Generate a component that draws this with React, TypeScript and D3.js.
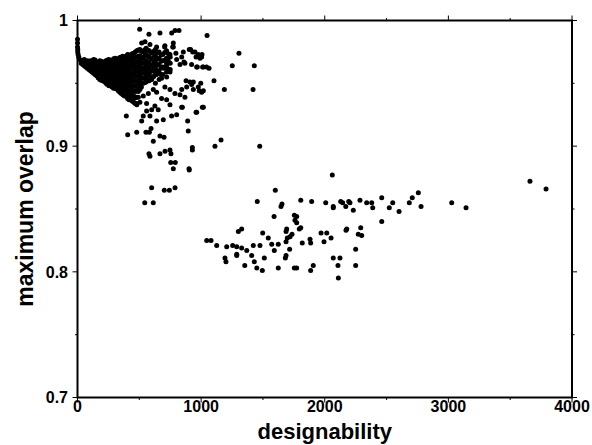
import React from "react";
import * as d3 from "d3";

// ---- data (designability vs maximum overlap) ----
// dense head of the distribution: column x values and the overlap values in each column
const headColumnX: number[] = [0, 2, 5, 10, 18, 30, 55, 80, 105, 130, 155, 180, 205, 230, 255, 280, 305, 330, 355, 380, 405, 430, 455, 480, 505, 530, 555, 580, 605, 630, 660, 690, 720, 750];
const headColumnY: number[][] = [
  [0.985, 0.982, 0.979],
  [0.977, 0.975],
  [0.973],
  [0.971],
  [0.969],
  [0.968, 0.966],
  [0.969, 0.966, 0.964],
  [0.968, 0.965, 0.962],
  [0.968, 0.965, 0.962, 0.960],
  [0.969, 0.966, 0.963, 0.960, 0.958],
  [0.967, 0.964, 0.961, 0.958, 0.956],
  [0.968, 0.965, 0.962, 0.959, 0.956, 0.953],
  [0.967, 0.964, 0.961, 0.958, 0.955, 0.952],
  [0.968, 0.965, 0.962, 0.959, 0.956, 0.953, 0.950],
  [0.969, 0.966, 0.963, 0.960, 0.957, 0.954, 0.951, 0.948],
  [0.968, 0.965, 0.962, 0.959, 0.956, 0.953, 0.950, 0.947],
  [0.970, 0.967, 0.964, 0.961, 0.958, 0.955, 0.952, 0.949, 0.946],
  [0.969, 0.966, 0.963, 0.960, 0.957, 0.954, 0.951, 0.948, 0.944],
  [0.971, 0.968, 0.965, 0.962, 0.959, 0.956, 0.953, 0.950, 0.946, 0.942],
  [0.970, 0.967, 0.964, 0.961, 0.958, 0.955, 0.952, 0.949, 0.945, 0.940],
  [0.973, 0.969, 0.966, 0.963, 0.960, 0.957, 0.954, 0.950, 0.946, 0.942, 0.938],
  [0.972, 0.968, 0.965, 0.962, 0.958, 0.955, 0.951, 0.947, 0.943, 0.937],
  [0.974, 0.970, 0.966, 0.963, 0.959, 0.956, 0.952, 0.948, 0.944, 0.940, 0.935],
  [0.976, 0.971, 0.967, 0.963, 0.960, 0.956, 0.952, 0.948, 0.944, 0.939, 0.933],
  [0.977, 0.972, 0.968, 0.964, 0.960, 0.957, 0.953, 0.949, 0.945],
  [0.975, 0.970, 0.966, 0.962, 0.958, 0.954, 0.950],
  [0.978, 0.973, 0.968, 0.964, 0.959, 0.955, 0.951],
  [0.976, 0.971, 0.966, 0.962, 0.957, 0.952],
  [0.974, 0.969, 0.964, 0.960, 0.955],
  [0.977, 0.972, 0.967, 0.962, 0.957, 0.950],
  [0.975, 0.970, 0.965, 0.960, 0.953],
  [0.973, 0.968, 0.963, 0.957],
  [0.976, 0.970, 0.964, 0.959],
  [0.971, 0.966, 0.961],
];
// in-between columns of the same dense head
const headColumnX2: number[] = [42, 67, 92, 117, 142, 167, 192, 217, 242, 267, 292, 317, 342, 367, 392, 417, 442, 467, 492, 517, 542, 567, 592, 617, 645, 675, 705, 735];
const headColumnY2: number[][] = [
  [0.967, 0.965],
  [0.9675, 0.9645, 0.963],
  [0.9665, 0.9635, 0.961],
  [0.9675, 0.9645, 0.9615, 0.959],
  [0.9685, 0.9655, 0.9625, 0.9595, 0.957],
  [0.9665, 0.9635, 0.9605, 0.9575, 0.9545],
  [0.9675, 0.9645, 0.9615, 0.9585, 0.9555, 0.9525],
  [0.9665, 0.9635, 0.9605, 0.9575, 0.9545, 0.9515],
  [0.9685, 0.9655, 0.9625, 0.9595, 0.9565, 0.9535, 0.9505, 0.949],
  [0.9675, 0.9645, 0.9615, 0.9585, 0.9555, 0.9525, 0.9495],
  [0.9695, 0.9665, 0.9635, 0.9605, 0.9575, 0.9545, 0.9515, 0.9485, 0.946],
  [0.9695, 0.9665, 0.9635, 0.9605, 0.9575, 0.9545, 0.9515, 0.9485, 0.9455],
  [0.9705, 0.9675, 0.9645, 0.9615, 0.9585, 0.9555, 0.9525, 0.9495, 0.9465, 0.943],
  [0.9715, 0.9685, 0.9655, 0.9625, 0.9595, 0.9565, 0.9535, 0.9505, 0.9475, 0.9435, 0.941],
  [0.9715, 0.9675, 0.9645, 0.9615, 0.9585, 0.9555, 0.9525, 0.9485, 0.9445, 0.9405],
  [0.9725, 0.9685, 0.9655, 0.9625, 0.9595, 0.9565, 0.9525, 0.9485, 0.9445, 0.9405, 0.937],
  [0.9735, 0.9695, 0.9655, 0.9625, 0.9585, 0.9555, 0.9515, 0.9475, 0.9435, 0.9395, 0.936],
  [0.975, 0.9705, 0.9665, 0.9625, 0.9595, 0.9555, 0.9515, 0.9475, 0.9435, 0.9385, 0.934],
  [0.9765, 0.9715, 0.9675, 0.9635, 0.9595, 0.9555, 0.9515, 0.9475, 0.9435, 0.939],
  [0.9755, 0.9705, 0.9665, 0.9625, 0.9585, 0.9545, 0.9505, 0.947],
  [0.9765, 0.9715, 0.9665, 0.9625, 0.9585, 0.9545, 0.9505],
  [0.9765, 0.9715, 0.9665, 0.9615, 0.9565, 0.9525],
  [0.9745, 0.9695, 0.9645, 0.9595, 0.9545],
  [0.9755, 0.9705, 0.9655, 0.9605, 0.9555],
  [0.9745, 0.9695, 0.9645, 0.9595],
  [0.9725, 0.9675, 0.9625, 0.957],
  [0.9745, 0.9685, 0.9625],
  [0.9735, 0.9675, 0.9615],
];

// scattered points of the high-overlap fan
const fanPoints: [number, number][] = [
  [503, 0.993], [578, 0.989], [667, 0.990], [762, 0.990], [789, 0.992], [821, 0.992],
  [1048, 0.988], [1306, 0.974], [1252, 0.964], [1430, 0.964], [1104, 0.952], [1188, 0.945],
  [1420, 0.945], [1018, 0.931], [964, 0.927], [848, 0.931], [891, 0.920], [896, 0.912],
  [929, 0.899], [929, 0.897], [1112, 0.900], [1161, 0.905], [1474, 0.900], [902, 0.882],
  [775, 0.882], [754, 0.887], [791, 0.887], [748, 0.897], [756, 0.894], [667, 0.894],
  [708, 0.896], [578, 0.894], [586, 0.892], [613, 0.904], [667, 0.908], [700, 0.907],
  [595, 0.914], [479, 0.911], [406, 0.909], [395, 0.924], [554, 0.911], [581, 0.911],
  [600, 0.867], [702, 0.865], [743, 0.865], [789, 0.867], [544, 0.855], [613, 0.855],
  [991, 0.970], [1007, 0.973], [959, 0.971], [932, 0.975], [904, 0.977], [856, 0.975],
  [843, 0.971], [861, 0.967], [1064, 0.962], [1018, 0.963], [969, 0.963], [878, 0.952],
  [924, 0.949], [937, 0.951], [997, 0.950], [985, 0.944], [1018, 0.944], [843, 0.945],
  [843, 0.931], [1010, 0.931], [959, 0.927], [775, 0.982], [770, 0.979], [705, 0.979],
  [519, 0.982], [546, 0.983], [586, 0.981], [640, 0.979], [707, 0.980], [775, 0.979],
  [796, 0.974], [915, 0.977], [950, 0.975], [977, 0.973], [1004, 0.971], [964, 0.963],
  [1012, 0.963], [1044, 0.963], [923, 0.965], [869, 0.966], [829, 0.965], [802, 0.969],
  [748, 0.973], [721, 0.966], [694, 0.962], [748, 0.959], [721, 0.955], [680, 0.954],
  [640, 0.957], [600, 0.953], [573, 0.957], [546, 0.961], [613, 0.945], [640, 0.943],
  [680, 0.938], [721, 0.937], [748, 0.933], [653, 0.929], [626, 0.932], [600, 0.929],
  [559, 0.928], [532, 0.924], [519, 0.920], [586, 0.924], [694, 0.921], [640, 0.920],
  [761, 0.924], [802, 0.925], [829, 0.941], [883, 0.947], [910, 0.951], [937, 0.945],
  [977, 0.947], [1004, 0.943], [869, 0.939], [788, 0.942], [748, 0.945], [707, 0.947],
  [573, 0.942], [532, 0.940], [505, 0.935], [478, 0.934], [559, 0.934], [904, 0.881],
];

// the low-overlap group at high designability
const lowPoints: [number, number][] = [
  [2061, 0.877], [3660, 0.872], [3790, 0.866], [1600, 0.865], [1454, 0.856], [1806, 0.857],
  [1894, 0.856], [2008, 0.855], [2069, 0.852], [2069, 0.851], [1646, 0.852], [1654, 0.854],
  [2129, 0.856], [2145, 0.855], [2170, 0.852], [2194, 0.856], [2204, 0.855], [2231, 0.849],
  [2285, 0.857], [2339, 0.855], [2380, 0.855], [2388, 0.851], [2461, 0.859], [2522, 0.851],
  [2550, 0.855], [2601, 0.848], [2684, 0.855], [2708, 0.859], [2757, 0.863], [2779, 0.852],
  [3027, 0.855], [3143, 0.851], [2461, 0.840], [1590, 0.844], [1754, 0.845], [1773, 0.844],
  [1759, 0.841], [1773, 0.839], [2291, 0.835], [2271, 0.830], [2299, 0.829], [2172, 0.833],
  [2178, 0.834], [1806, 0.835], [1794, 0.834], [1692, 0.834], [1687, 0.832], [1735, 0.830],
  [1719, 0.828], [1301, 0.832], [1328, 0.834], [1498, 0.831], [1543, 0.827], [1045, 0.825],
  [1080, 0.825], [1126, 0.821], [1207, 0.820], [1255, 0.821], [1288, 0.820], [1328, 0.819],
  [1369, 0.817], [1422, 0.821], [1476, 0.821], [1571, 0.822], [1624, 0.822], [1687, 0.824],
  [1697, 0.827], [1818, 0.823], [1881, 0.826], [1886, 0.823], [1970, 0.831], [2016, 0.831],
  [2051, 0.827], [1994, 0.824], [1716, 0.818], [1592, 0.817], [1687, 0.813], [1681, 0.811],
  [1288, 0.814], [1288, 0.813], [1409, 0.813], [1193, 0.811], [1201, 0.808], [1511, 0.811],
  [1430, 0.808], [1353, 0.805], [1450, 0.803], [1495, 0.801], [1624, 0.803], [1754, 0.803],
  [1773, 0.803], [1886, 0.801], [1907, 0.805], [2069, 0.811], [2123, 0.811], [2107, 0.805],
  [2110, 0.795], [2250, 0.818], [2250, 0.805],
];

const xMajorTicks = [0, 1000, 2000, 3000, 4000];
const xTickLabels = ["0", "1000", "2000", "3000", "4000"];
const xMinorTicks = [500, 1500, 2500, 3500];
const yMajorTicks = [0.7, 0.8, 0.9, 1.0];
const yTickLabels = ["0.7", "0.8", "0.9", "1"];
const yMinorTicks = [0.75, 0.85, 0.95];

const W = 592;
const H = 445;
const L = 77.5, R = 572, T = 20.5, B = 397.5;
const FONT = "'Liberation Sans', Arial, Helvetica, sans-serif";

export default function App() {
  const x = d3.scaleLinear().domain([0, 4000]).range([L, R]);
  const y = d3.scaleLinear().domain([0.7, 1.0]).range([B, T]);

  const toPairs = (xs: number[], ys: number[][]) =>
    xs.flatMap((cx, i) => ys[i].map((v) => [cx, v] as [number, number]));
  const all = [
    ...toPairs(headColumnX, headColumnY),
    ...toPairs(headColumnX2, headColumnY2),
    ...fanPoints,
    ...lowPoints,
  ];

  const major = 5, minor = 2.5;

  return (
    <svg width={W} height={H} style={{ position: "absolute", left: 0, top: 0, background: "#fff" }}>
      <rect x={0} y={0} width={W} height={H} fill="#fff" />
      {all.map(([dx, dy], i) => (
        <circle key={i} cx={x(dx)} cy={y(dy)} r={2.5} fill="#000" />
      ))}
      {/* frame */}
      <rect x={L} y={T} width={R - L} height={B - T} fill="none" stroke="#000" strokeWidth={2} />
      {xMajorTicks.map((t) => (
        <g key={"xm" + t}>
          <line x1={x(t)} x2={x(t)} y1={B} y2={B + major} stroke="#000" strokeWidth={1} />
          <line x1={x(t)} x2={x(t)} y1={T} y2={T - major} stroke="#000" strokeWidth={1} />
        </g>
      ))}
      {xMinorTicks.map((t) => (
        <g key={"xn" + t}>
          <line x1={x(t)} x2={x(t)} y1={B} y2={B + minor} stroke="#000" strokeWidth={1} />
          <line x1={x(t)} x2={x(t)} y1={T} y2={T - minor} stroke="#000" strokeWidth={1} />
        </g>
      ))}
      {yMajorTicks.map((t) => (
        <g key={"ym" + t}>
          <line x1={L} x2={L - major} y1={y(t)} y2={y(t)} stroke="#000" strokeWidth={1} />
          <line x1={R} x2={R + major} y1={y(t)} y2={y(t)} stroke="#000" strokeWidth={1} />
        </g>
      ))}
      {yMinorTicks.map((t) => (
        <g key={"yn" + t}>
          <line x1={L} x2={L - minor} y1={y(t)} y2={y(t)} stroke="#000" strokeWidth={1} />
          <line x1={R} x2={R + minor} y1={y(t)} y2={y(t)} stroke="#000" strokeWidth={1} />
        </g>
      ))}
      {xMajorTicks.map((t, i) => (
        <text key={"xl" + t} x={x(t)} y={412} textAnchor="middle" fontFamily={FONT} fontWeight="bold" fontSize={16} fill="#000">
          {xTickLabels[i]}
        </text>
      ))}
      {yMajorTicks.map((t, i) => (
        <text key={"yl" + t} x={68} y={y(t)} dy="0.36em" textAnchor="end" fontFamily={FONT} fontWeight="bold" fontSize={16} fill="#000">
          {yTickLabels[i]}
        </text>
      ))}
      <text x={(L + R) / 2} y={439} textAnchor="middle" fontFamily={FONT} fontWeight="bold" fontSize={22} fill="#000">
        designability
      </text>
      <text transform={`translate(33,${(T + B) / 2}) rotate(-90)`} textAnchor="middle" fontFamily={FONT} fontWeight="bold" fontSize={23} fill="#000">
        maximum overlap
      </text>
    </svg>
  );
}
